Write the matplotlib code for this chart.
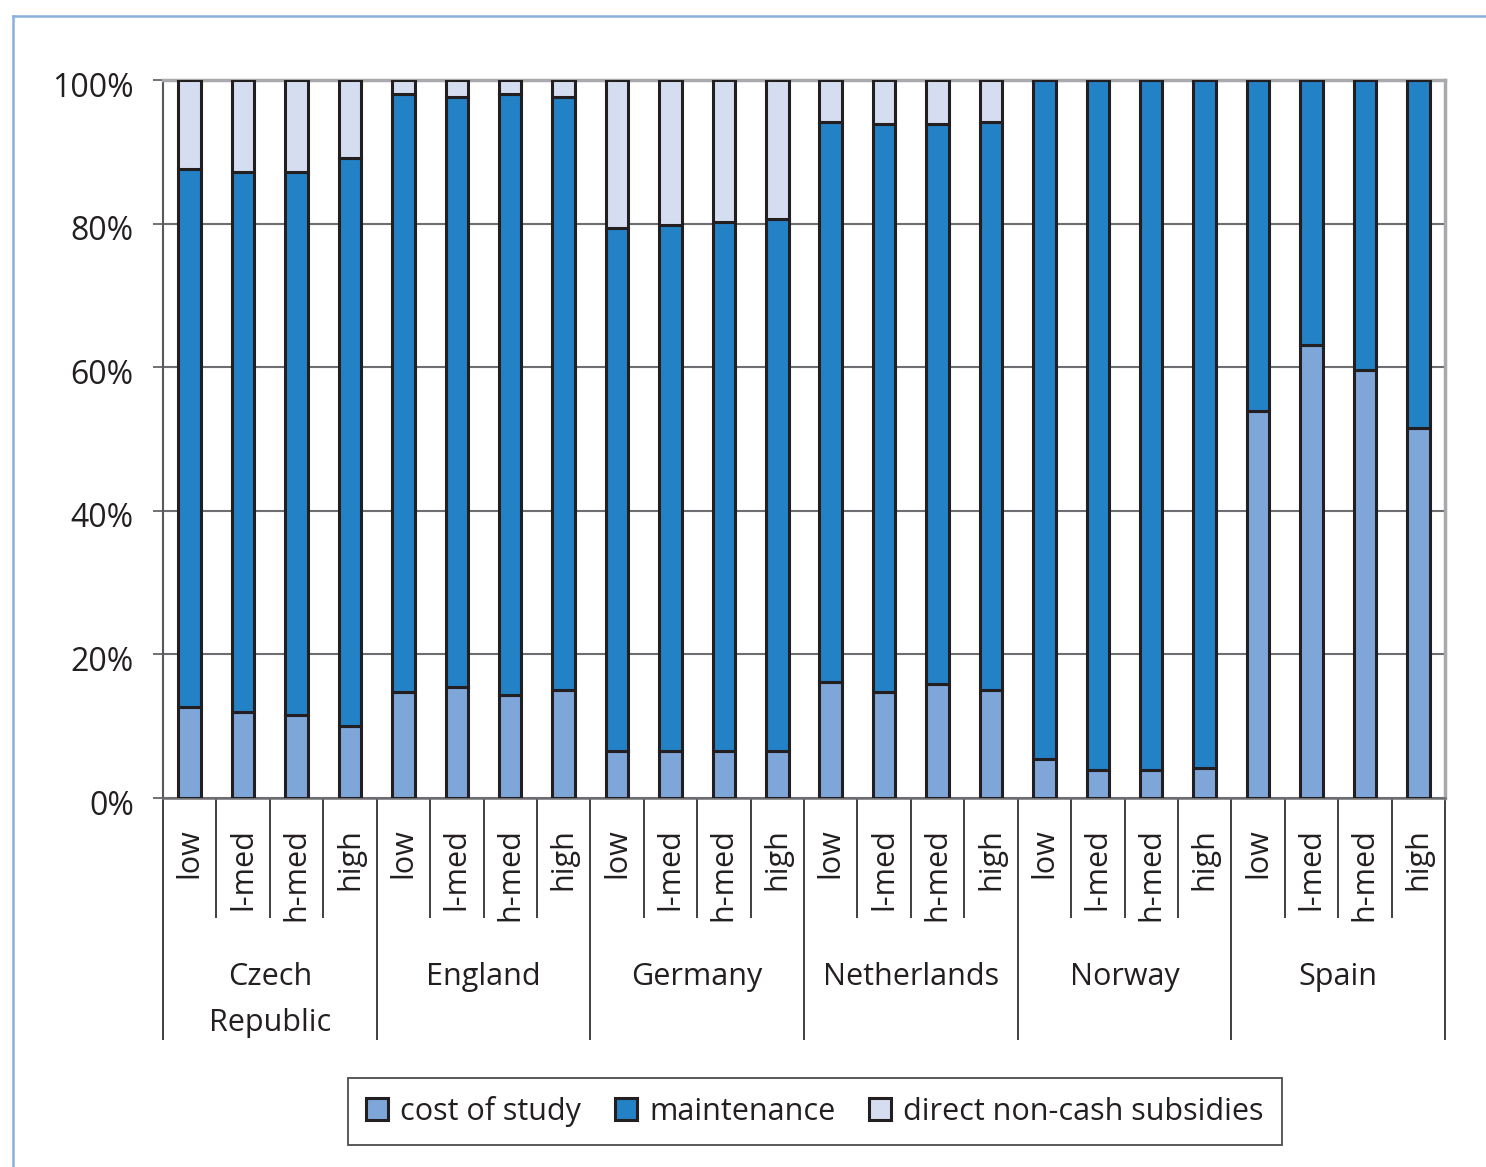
import numpy as np
from matplotlib import rcParams
from matplotlib import pyplot as plt
from matplotlib.lines import Line2D
from matplotlib.transforms import ScaledTranslation

rcParams['font.family'] = ['Open Sans', 'DejaVu Sans']
rcParams['text.color'] = '#231f20'

# data (shares in %)
countries = ["Czech\nRepublic", "England", "Germany", "Netherlands", "Norway", "Spain"]
levels = ["low", "l-med", "h-med", "high"]
cost_of_study = [12.7, 12.0, 11.6, 10.0,
                 14.8, 15.5, 14.3, 15.0,
                 6.5, 6.5, 6.5, 6.5,
                 16.2, 14.8, 15.9, 15.0,
                 5.4, 3.9, 3.9, 4.2,
                 53.9, 63.1, 59.6, 51.5]
maintenance_top = [87.6, 87.2, 87.2, 89.1,
                   98.0, 97.6, 98.0, 97.6,
                   79.4, 79.8, 80.2, 80.6,
                   94.2, 93.9, 93.9, 94.2,
                   100, 100, 100, 100,
                   100, 100, 100, 100]

cost = np.array(cost_of_study)
maint = np.array(maintenance_top) - cost
subs = 100 - np.array(maintenance_top)

colors = ['#7ea6d8', '#2381c6', '#d4def0']
edge = '#231f20'

fig = plt.figure(figsize=(14.86, 11.67), dpi=100)
ax = fig.add_axes([163/1486, 1 - 798/1167, (1445-163)/1486, (798-80)/1167])

x = np.arange(len(cost))
w = 0.42
ax.bar(x, cost, w, color=colors[0], edgecolor=edge, lw=2.2, label='cost of study', zorder=3)
ax.bar(x, maint, w, bottom=cost, color=colors[1], edgecolor=edge, lw=2.2, label='maintenance', zorder=3)
ax.bar(x, subs, w, bottom=cost+maint, color=colors[2], edgecolor=edge, lw=2.2,
       label='direct non-cash subsidies', zorder=3)

ax.set_xlim(-0.5, len(cost)-0.5)
ax.set_ylim(0, 100)
ax.set_yticks([0, 20, 40, 60, 80, 100], ['0%', '20%', '40%', '60%', '80%', '100%'])
ax.tick_params(axis='y', length=7, width=1.2, color='#58595b', pad=14, labelsize=23, labelcolor='#231f20')
ax.yaxis.grid(True, color='#6d6e71', lw=1.5, zorder=1)
# labels sit a little below their gridline in the original
shift = ScaledTranslation(0, -3/72, fig.dpi_scale_trans)
for lab in ax.get_yticklabels():
    lab.set_transform(lab.get_transform() + shift)

ax.set_xticks(x, levels * len(countries), rotation=90)
ax.tick_params(axis='x', length=0, pad=22, labelsize=22, labelcolor='#231f20')

ax.spines['left'].set_color('#58595b')
ax.spines['left'].set_linewidth(1.5)
ax.spines['bottom'].set_color('#6d6e71')
ax.spines['bottom'].set_linewidth(1.8)
for s in ['top', 'right']:
    ax.spines[s].set_color('#a7a9ac')
    ax.spines[s].set_linewidth(2.5)

# category separators below the axis
trans = ax.get_xaxis_transform()
sub_sep = [i + 0.5 for i in range(len(cost) - 1) if (i + 1) % 4 != 0]
grp_sep = [g * 4 - 0.5 for g in range(len(countries) + 1)]
ax.vlines(sub_sep, -0.167, 0, transform=trans, color='#231f20', lw=1.2, clip_on=False)
ax.vlines(grp_sep, -0.337, 0, transform=trans, color='#231f20', lw=1.2, clip_on=False)

for g, name in enumerate(countries):
    ax.text(g * 4 + 1.5, -0.228, name, transform=trans, ha='center', va='top',
            fontsize=22, linespacing=1.72)

leg = ax.legend(loc='center', bbox_to_anchor=(815/1486, 1 - 1111.5/1167),
                bbox_transform=fig.transFigure, ncol=3, fontsize=22, frameon=True,
                fancybox=False, edgecolor='#231f20', handlelength=0.72, handleheight=0.72,
                handletextpad=0.4, columnspacing=1.1, borderpad=0.6)
leg.get_frame().set_linewidth(1.3)

# thin blue frame round the figure (top and left)
fc = '#8ab0dc'
fig.add_artist(Line2D([13/1486, 1], [1 - 16/1167, 1 - 16/1167], color=fc, lw=1.8))
fig.add_artist(Line2D([13/1486, 13/1486], [0, 1 - 16/1167], color=fc, lw=1.8))

fig.savefig('out.png', dpi=100)
